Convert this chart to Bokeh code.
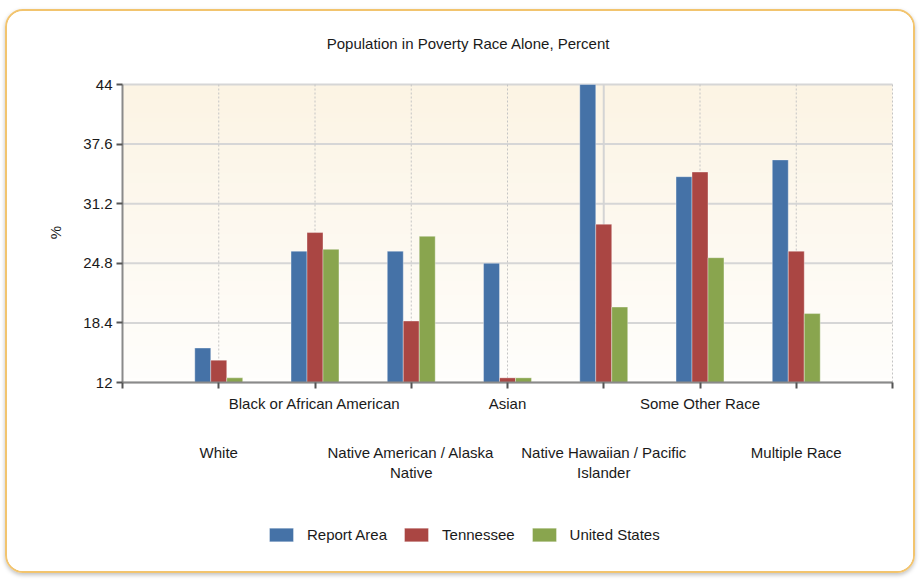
import numpy as np
from bokeh.plotting import figure
from bokeh.models import (FixedTicker, LinearAxis, Legend, LegendItem, Range1d,
                          ColumnDataSource, Label)
from bokeh.embed import file_html
from bokeh.resources import INLINE

# ---------------- data ----------------
categories = ["White", "Black or African American", "Native American / Alaska\nNative",
              "Asian", "Native Hawaiian / Pacific\nIslander", "Some Other Race", "Multiple Race"]
report_area = [15.7, 26.1, 26.1, 24.8, 44.0, 34.1, 35.9]
tennessee = [14.4, 28.1, 18.6, 12.5, 29.0, 34.6, 26.1]
united_states = [12.5, 26.3, 27.7, 12.5, 20.1, 25.4, 19.4]
series_names = ["Report Area", "Tennessee", "United States"]
y_ticks = [12, 18.4, 24.8, 31.2, 37.6, 44]
y_tick_labels = ["12", "18.4", "24.8", "31.2", "37.6", "44"]
title_text = "Population in Poverty Race Alone, Percent"
y_title = "%"

FONT = "Liberation Sans"
FS = "15px"
TXT = "#1a1a1a"
colors = ["#4572a7", "#aa4643", "#89a54e"]

# ---------------- layout (pixels) ----------------
W, H = 910, 564
OX, OY = 7, 12                      # page offset of the canvas origin
AX_L, AX_R = 122, 892               # page x of category axis ends
AX_T, AX_B = 85, 383                # page y of value axis ends
n_cat = len(categories)
y_lo, y_hi = y_ticks[0], y_ticks[-1]
PXX = (AX_R - AX_L) / (n_cat + 1)   # px per x unit
PXY = (AX_B - AX_T) / (y_hi - y_lo) # px per y unit
x_start = 0 - (AX_L - OX) / PXX
x_end = (n_cat + 1) + (OX + W - AX_R) / PXX
y_end = y_hi + (AX_T - OY) / PXY
y_start = y_lo - (OY + H - AX_B) / PXY


def dx(page_x):
    return x_start + (page_x - OX) / PXX


def dy(page_y):
    return y_end - (page_y - OY) / PXY


p = figure(width=W, height=H, output_backend="svg", toolbar_location=None,
           x_range=Range1d(x_start, x_end), y_range=Range1d(y_start, y_end),
           min_border=0, x_axis_location=None, title=None)
p.styles = {"border": "2px solid #f2c46e", "border-radius": "18px",
            "box-shadow": "0 2px 4px rgba(0,0,0,0.25)", "overflow": "hidden",
            "margin-left": "5px", "margin-top": "9px"}
p.border_fill_color = "white"
p.outline_line_color = None
p.background_fill_color = "white"
p.xgrid.visible = False
p.ygrid.visible = False

# background gradient inside the plot area
n = 64
t = np.linspace(0, 1, n)  # 0 bottom -> 1 top
r = (255 + (252 - 255) * t).astype(np.uint32)
g = (254 + (244 - 254) * t).astype(np.uint32)
b = (252 + (228 - 252) * t).astype(np.uint32)
img = np.empty((n, 1), dtype=np.uint32)
img[:, 0] = (255 << 24) | (b << 16) | (g << 8) | r
p.image_rgba(image=[img], x=0, y=y_lo, dw=n_cat + 1, dh=y_hi - y_lo, level="image")

# grid lines (limited to the plot area)
hg = ColumnDataSource(dict(x0=[0] * len(y_ticks), x1=[n_cat + 1] * len(y_ticks),
                           y=y_ticks))
p.segment(x0="x0", y0="y", x1="x1", y1="y", source=hg, line_color="#d6d6d6",
          line_width=2, level="underlay")
vx = list(range(1, n_cat + 2))
vx_dotted = [v for v in vx if v != 5]
p.segment(x0=vx_dotted, y0=[y_lo] * len(vx_dotted), x1=vx_dotted, y1=[y_hi] * len(vx_dotted),
          line_color="#c4c4c4", line_width=1, line_dash="2 2", level="underlay")
p.segment(x0=[5], y0=[y_lo], x1=[5], y1=[y_hi], line_color="#d4d4d4", line_width=2,
          level="underlay")

# bars
xs = np.arange(1, n_cat + 1)
bw = 0.166
renderers = []
for i, (vals, c) in enumerate(zip([report_area, tennessee, united_states], colors)):
    src = ColumnDataSource(dict(x=xs + (i - 1) * bw, top=vals))
    rr = p.vbar(x="x", top="top", bottom=y_lo, width=bw, source=src,
                fill_color=c, line_color="white", line_alpha=0.35, line_width=1)
    renderers.append(rr)

# y axis
p.yaxis.fixed_location = 0
p.yaxis.bounds = (y_lo, y_hi)
p.yaxis.ticker = FixedTicker(ticks=y_ticks)
p.yaxis.major_label_overrides = dict(zip(y_ticks, y_tick_labels))
p.yaxis.major_label_text_font = FONT
p.yaxis.major_label_text_font_size = FS
p.yaxis.major_label_text_color = TXT
p.yaxis.major_label_standoff = 4
p.yaxis.minor_tick_line_color = None
p.yaxis.major_tick_in = 0
p.yaxis.major_tick_out = 6
p.yaxis.axis_line_color = "#8a8a8a"
p.yaxis.axis_line_width = 2
p.yaxis.major_tick_line_color = "#555555"
p.yaxis.major_tick_line_width = 2


def label_axis(ticks, labels, standoff):
    ax = LinearAxis(ticker=FixedTicker(ticks=ticks), fixed_location=y_lo)
    ax.major_label_overrides = dict(zip(ticks, labels))
    ax.axis_line_color = None
    ax.major_tick_line_color = None
    ax.minor_tick_line_color = None
    ax.major_label_standoff = standoff
    ax.major_label_text_font = FONT
    ax.major_label_text_font_size = FS
    ax.major_label_text_color = TXT
    return ax


# x axis: line, ticks and first label row (Black / Asian / Some Other Race)
row1_idx = [1, 3, 5]
ax0 = LinearAxis(ticker=FixedTicker(ticks=list(range(0, n_cat + 2))), fixed_location=y_lo,
                 bounds=(0, n_cat + 1))
ax0.major_label_overrides = {k: "" for k in range(0, n_cat + 2)}
for i in row1_idx:
    ax0.major_label_overrides[int(xs[i])] = categories[i]
ax0.axis_line_color = "#8a8a8a"
ax0.axis_line_width = 2
ax0.major_tick_line_color = "#555555"
ax0.major_tick_line_width = 2
ax0.major_tick_in = 0
ax0.major_tick_out = 6
ax0.minor_tick_line_color = None
ax0.major_label_standoff = 6
ax0.major_label_text_font = FONT
ax0.major_label_text_font_size = FS
ax0.major_label_text_color = TXT
p.add_layout(ax0, "below")

# second label row: White / Native American / Native Hawaiian / Multiple Race (wrapped)
row2_idx = [0, 2, 4, 6]
p.add_layout(label_axis([int(xs[i]) for i in row2_idx],
                        [categories[i].split("\n")[0] for i in row2_idx], 55), "below")
wrap_idx = [i for i in row2_idx if "\n" in categories[i]]
p.add_layout(label_axis([int(xs[i]) for i in wrap_idx],
                        [categories[i].split("\n")[1] for i in wrap_idx], 75), "below")

# title and axis title
p.add_layout(Label(x=dx(468), y=dy(44), text=title_text, text_align="center",
                   text_baseline="middle", text_font=FONT, text_font_size=FS,
                   text_color=TXT))
p.add_layout(Label(x=dx(55), y=dy(233), text=y_title, angle=np.pi / 2,
                   text_align="center", text_baseline="middle", text_font=FONT,
                   text_font_size=FS, text_color=TXT))

# legend
items = [LegendItem(label=nm, renderers=[rr]) for nm, rr in zip(series_names, renderers)]
leg = Legend(items=items, orientation="horizontal",
             location=(266 - OX, OY + H - 544),
             padding=0, margin=0, spacing=14, glyph_width=30, glyph_height=17,
             label_standoff=11, label_text_font=FONT, label_text_font_size=FS,
             label_text_color=TXT, background_fill_alpha=0,
             border_line_color=None)
p.add_layout(leg, "center")

open("out.html", "w").write(file_html(p, INLINE))
